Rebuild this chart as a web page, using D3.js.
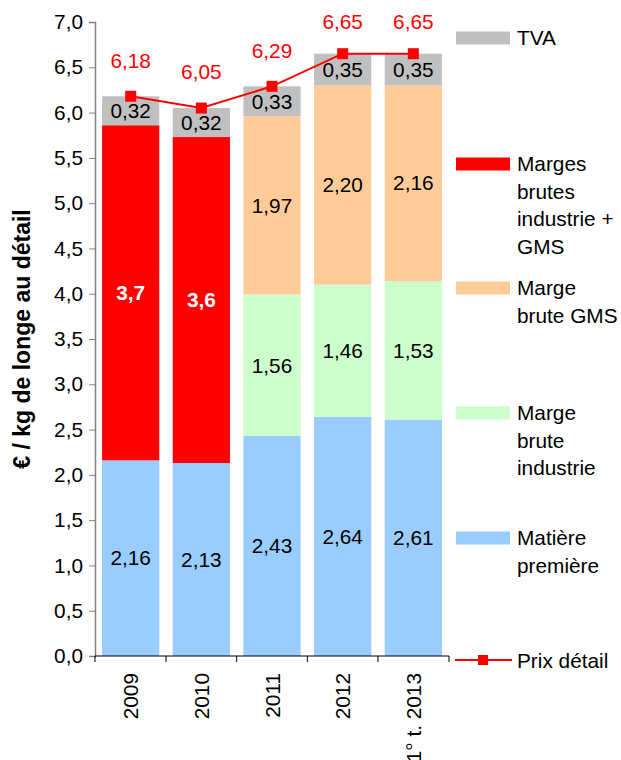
<!DOCTYPE html>
<html><head><meta charset="utf-8">
<script src="https://cdn.jsdelivr.net/npm/d3@7"></script>
<style>body{margin:0;background:#fff}svg{display:block}text{font-family:"Liberation Sans",Arial,sans-serif}</style>
</head><body><svg id="c" width="621" height="760"></svg>
<script>
const categories = ["2009","2010","2011","2012","1° t. 2013"];
const matiere = [2.16, 2.13, 2.43, 2.64, 2.61];
const margeIndustrie = [0, 0, 1.56, 1.46, 1.53];
const margeGMS = [0, 0, 1.97, 2.20, 2.16];
const margesIndGMS = [3.70, 3.60, 0, 0, 0];
const tva = [0.32, 0.32, 0.33, 0.35, 0.35];
const prix = [6.18, 6.05, 6.29, 6.65, 6.65];
const labMatiere = ["2,16","2,13","2,43","2,64","2,61"];
const labIndustrie = ["","","1,56","1,46","1,53"];
const labGMS = ["","","1,97","2,20","2,16"];
const labIndGMS = ["3,7","3,6","","",""];
const labTva = ["0,32","0,32","0,33","0,35","0,35"];
const labPrix = ["6,18","6,05","6,29","6,65","6,65"];
const yTicks = [0,0.5,1,1.5,2,2.5,3,3.5,4,4.5,5,5.5,6,6.5,7];

const series = [
  {key:"matiere", vals:matiere, labs:labMatiere, color:"#99CCFF", tc:"#000", bold:false},
  {key:"ind", vals:margeIndustrie, labs:labIndustrie, color:"#CCFFCC", tc:"#000", bold:false},
  {key:"gms", vals:margeGMS, labs:labGMS, color:"#FFCC99", tc:"#000", bold:false},
  {key:"indgms", vals:margesIndGMS, labs:labIndGMS, color:"#FF0000", tc:"#fff", bold:true},
  {key:"tva", vals:tva, labs:labTva, color:"#C0C0C0", tc:"#000", bold:false}
];
const legendItems = [
  {color:"#C0C0C0", lines:["TVA"], y:38},
  {color:"#FF0000", lines:["Marges","brutes","industrie +","GMS"], y:164},
  {color:"#FFCC99", lines:["Marge","brute GMS"], y:288},
  {color:"#CCFFCC", lines:["Marge","brute","industrie"], y:413},
  {color:"#99CCFF", lines:["Matière","première"], y:538}
];

(function(){
const svg = d3.select("#c");
const left = 95, right = 449, topY = 22, bottom = 656;
const x = d3.scaleBand().domain(categories).range([left, right]).paddingInner(0.19).paddingOuter(0.1);
const y = d3.scaleLinear().domain([0,7]).range([bottom, topY]);
const fs = 20.8;

const stackData = categories.map((c,i)=>{const o={cat:c}; series.forEach(s=>o[s.key]=s.vals[i]); return o;});
const stack = d3.stack().keys(series.map(s=>s.key))(stackData);
stack.forEach((layer,si)=>{
  const s = series[si];
  const g = svg.append("g");
  g.selectAll("rect").data(layer).join("rect")
    .attr("x", d=>x(d.data.cat)).attr("width", x.bandwidth())
    .attr("y", d=>y(d[1])).attr("height", d=>y(d[0])-y(d[1]))
    .attr("fill", s.color);
  g.selectAll("text").data(layer).join("text")
    .attr("x", d=>x(d.data.cat)+x.bandwidth()/2)
    .attr("y", d=>(y(d[0])+y(d[1]))/2)
    .attr("dy","0.35em").attr("text-anchor","middle")
    .attr("font-size", fs).attr("fill", s.tc).attr("font-weight", s.bold?"bold":"normal")
    .text((d,i)=>s.labs[i]);
});

const ya = svg.append("g").attr("transform",`translate(${left},0)`)
  .call(d3.axisLeft(y).tickValues(yTicks).tickSize(6).tickPadding(6).tickFormat(d=>d3.format(".1f")(d).replace(".",",")));
ya.select(".domain").attr("stroke","#808080").attr("stroke-width",1.5);
ya.selectAll(".tick line").attr("stroke","#808080");
ya.selectAll(".tick text").attr("font-size",fs).attr("fill","#000").style("font-family","Liberation Sans, Arial, sans-serif");

const xa = svg.append("g").attr("transform",`translate(0,${bottom})`);
xa.append("line").attr("x1",left).attr("x2",right).attr("stroke","#000").attr("stroke-width",1.2);
const bounds = [left].concat(categories.map(c=>x(c)+x.bandwidth()+x.step()*x.paddingInner()/2));
bounds[bounds.length-1] = right;
xa.selectAll("line.t").data(bounds).join("line").attr("class","t")
  .attr("x1",d=>d).attr("x2",d=>d).attr("y1",0).attr("y2",6).attr("stroke","#000");
xa.selectAll("text").data(categories).join("text")
  .attr("transform",d=>`translate(${x(d)+x.bandwidth()/2+7.5},17) rotate(-90)`)
  .attr("text-anchor","end").attr("font-size",fs).attr("fill","#000").text(d=>d);

const cx = c=>x(c)+x.bandwidth()/2;
svg.append("path").datum(prix)
  .attr("d", d3.line().x((d,i)=>cx(categories[i])).y(d=>y(d)))
  .attr("fill","none").attr("stroke","#FF0000").attr("stroke-width",2);
svg.selectAll("rect.m").data(prix).join("rect").attr("class","m")
  .attr("x",(d,i)=>cx(categories[i])-5.5).attr("y",d=>y(d)-5.5).attr("width",11).attr("height",11).attr("fill","#FF0000");
svg.selectAll("text.p").data(prix).join("text").attr("class","p")
  .attr("x",(d,i)=>cx(categories[i])).attr("y",d=>Math.max(22, y(d)-36))
  .attr("dy","0.35em").attr("text-anchor","middle").attr("font-size",fs).attr("fill","#FF0000")
  .text((d,i)=>labPrix[i]);

svg.append("text").attr("transform",`translate(30,${(topY+bottom)/2}) rotate(-90)`)
  .attr("text-anchor","middle").attr("font-size",23).attr("font-weight","bold").text("€ / kg de longe au détail");

const lg = svg.append("g");
legendItems.forEach(it=>{
  lg.append("rect").attr("x",456).attr("y",it.y-6.5).attr("width",54).attr("height",13).attr("fill",it.color);
  it.lines.forEach((l,j)=>{
    lg.append("text").attr("x",517).attr("y",it.y+j*27.5).attr("dy","0.35em").attr("font-size",fs).text(l);
  });
});
lg.append("line").attr("x1",455).attr("x2",512).attr("y1",660).attr("y2",660).attr("stroke","#FF0000").attr("stroke-width",2);
lg.append("rect").attr("x",478).attr("y",655).attr("width",10).attr("height",10).attr("fill","#FF0000");
lg.append("text").attr("x",517).attr("y",661).attr("dy","0.35em").attr("font-size",fs).text("Prix détail");
})();
</script></body></html>
